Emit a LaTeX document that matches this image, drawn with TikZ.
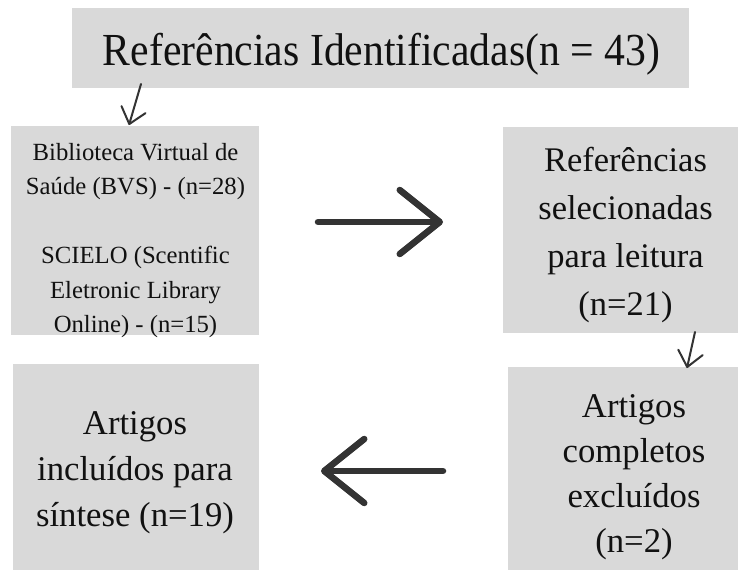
\documentclass[tikz,border=0pt]{standalone}
\usepackage{fontspec}
\setmainfont{Liberation Serif}
\usetikzlibrary{arrows.meta}
\definecolor{boxgray}{HTML}{D9D9D9}
\definecolor{arrowgray}{HTML}{333333}
\definecolor{txtcol}{HTML}{111111}
\begin{document}
\begin{tikzpicture}[x=1pt,y=-1pt,
  box/.style={fill=boxgray, draw=none, inner sep=0pt, outer sep=0pt},
  txt/.style={align=center, inner sep=0pt, outer sep=0pt, text=txtcol},
  bigarrow/.style={draw=arrowgray, line width=6.5pt, line cap=round,
    -{Straight Barb[length=40pt,width=64pt,round]}},
  smallarrow/.style={draw=arrowgray, line width=2pt, line cap=round,
    -{Straight Barb[length=15pt,width=25pt,round]}}]
\useasboundingbox (0,0) rectangle (745,574);
\fill[white] (0,0) rectangle (745,574);
% boxes
\node[box, minimum width=617pt, minimum height=80pt] (top) at (380.5,48) {};
\node[box, minimum width=248pt, minimum height=209pt] (lt) at (135,230.5) {};
\node[box, minimum width=235pt, minimum height=206pt] (rt) at (620.5,230) {};
\node[box, minimum width=246pt, minimum height=206pt] (bl) at (136,467) {};
\node[box, minimum width=230pt, minimum height=203pt] (br) at (623,468.5) {};
% texts
\node[txt, font=\fontsize{41.7}{50}\selectfont] (ttop) at (381.5,54.5)
  {\scalebox{1}[1.1]{Referências Identificadas(n = 43)}};
\node[txt, font=\fontsize{24.7}{34.5}\selectfont] (tlt) at (135.5,240.5)
  {Biblioteca Virtual de\\Saúde (BVS) - (n=28)\\[34.5pt]SCIELO (Scentific\\Eletronic Library\\Online) - (n=15)};
\node[txt, font=\fontsize{34.5}{48}\selectfont] (trt) at (625.5,234.7)
  {Referências\\selecionadas\\para leitura\\(n=21)};
\node[txt, font=\fontsize{34.7}{46}\selectfont] (tbl) at (135,472.8)
  {Artigos\\incluídos para\\síntese (n=19)};
\node[txt, font=\fontsize{34.7}{45}\selectfont] (tbr) at (634,477.5)
  {Artigos\\completos\\excluídos\\(n=2)};
% arrows
\draw[bigarrow] ([xshift=59pt,yshift=8.5pt]lt.east) -- ([xshift=-60pt,yshift=8pt]rt.west);
\draw[bigarrow] ([xshift=-65pt,yshift=-2.5pt]br.west) -- ([xshift=62pt,yshift=-4pt]bl.east);
\draw[smallarrow] ([xshift=69pt,yshift=4pt]top.south west) -- ([xshift=118pt,yshift=1pt]lt.north west);
\draw[smallarrow] ([xshift=192pt,yshift=1pt]rt.south west) -- ([xshift=179pt,yshift=-1pt]br.north west);
\end{tikzpicture}
\end{document}
